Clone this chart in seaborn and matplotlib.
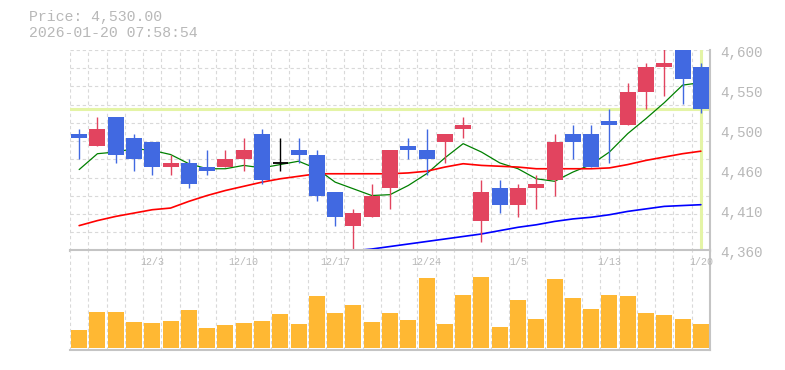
"""
Daily candlestick chart with 5/25/75-day moving averages and volume panel.
"""

import numpy as np
import matplotlib
matplotlib.use("Agg")
import matplotlib.pyplot as plt
import matplotlib.transforms as mtransforms
import seaborn as sns

# trading days shown on the chart (oldest first)
dates = ["11/27", "11/28", "12/1", "12/2", "12/3", "12/4", "12/5", "12/8", "12/9", "12/10",
         "12/11", "12/12", "12/15", "12/16", "12/17", "12/18", "12/19", "12/22", "12/23", "12/24",
         "12/25", "12/26", "12/29", "12/30", "1/5", "1/6", "1/7", "1/8", "1/9", "1/13",
         "1/14", "1/15", "1/16", "1/19", "1/20"]
tick_dates = ["12/3", "12/10", "12/17", "12/24", "1/5", "1/13", "1/20"]

opens = [4500, 4485, 4520, 4495, 4490, 4460, 4465, 4460, 4460, 4470,
         4500, 4465, 4480, 4475, 4430, 4390, 4400, 4435, 4485, 4480,
         4490, 4505, 4395, 4435, 4415, 4435, 4445, 4500, 4500, 4515,
         4510, 4550, 4580, 4610, 4580]
highs = [4505, 4520, 4520, 4500, 4490, 4475, 4470, 4480, 4480, 4495,
         4505, 4495, 4495, 4480, 4430, 4410, 4440, 4480, 4495, 4505,
         4500, 4520, 4445, 4445, 4440, 4450, 4500, 4510, 4510, 4530,
         4560, 4585, 4615, 4620, 4585]
lows = [4470, 4485, 4465, 4455, 4450, 4450, 4435, 4450, 4460, 4455,
        4440, 4455, 4465, 4420, 4390, 4360, 4400, 4410, 4470, 4450,
        4465, 4495, 4370, 4405, 4400, 4410, 4425, 4470, 4460, 4465,
        4510, 4530, 4545, 4535, 4525]
closes = [4495, 4505, 4475, 4470, 4460, 4465, 4440, 4455, 4470, 4480,
          4445, 4465, 4475, 4425, 4400, 4405, 4425, 4480, 4480, 4470,
          4500, 4510, 4430, 4415, 4435, 4440, 4490, 4490, 4460, 4510,
          4550, 4580, 4585, 4565, 4530]

ma5 = [4457, 4476, 4478, 4482, 4480, 4475, 4464, 4458, 4458, 4462,
       4459, 4463, 4467, 4458, 4442, 4434, 4426, 4427, 4438, 4452,
       4471, 4488, 4478, 4465, 4458, 4446, 4443, 4454, 4463, 4478,
       4500, 4518, 4537, 4558, 4561]
ma25 = [4390, 4396, 4401, 4405, 4409, 4411, 4419, 4426, 4432, 4437,
        4442, 4446, 4449, 4452, 4452, 4452, 4452, 4452, 4453, 4455,
        4460, 4464, 4462, 4461, 4460, 4458, 4458, 4458, 4458, 4459,
        4463, 4468, 4472, 4476, 4479]
ma75_start = 15
ma75 = [4360, 4362, 4365, 4368, 4371, 4374, 4377, 4380, 4384, 4388,
        4391, 4395, 4398, 4400, 4403, 4407, 4410, 4413, 4414, 4415]

volume = [5300, 10700, 10700, 7700, 7400, 8000, 11300, 5900, 6800, 7400,
          8000, 10100, 7100, 15500, 10400, 12800, 7700, 10400, 8300, 20900,
          7100, 15800, 21200, 6200, 14300, 8600, 20600, 14900, 11600, 15800,
          15500, 10400, 9800, 8600, 7100]

last_price = 4530.00
timestamp = "2026-01-20 07:58:54"
y_min, y_max = 4360, 4600

UP = "#e2445f"
DOWN = "#4169e1"
VOL = "#ffb833"
GRID = "#d9d9d9"
FRAME = "#c4c4c4"
TEXT = "#b8b8b8"
NOW = "#e4f4a6"

sns.set_theme(style="white")
plt.rcParams["font.family"] = ["Liberation Mono", "DejaVu Sans Mono"]

fig = plt.figure(figsize=(7.85, 3.70), dpi=100)
ax = fig.add_axes([70 / 785, 1 - 250.7 / 370, 640 / 785, 200.7 / 370])
axv = fig.add_axes([70 / 785, 1 - 350.3 / 370, 640 / 785, 100 / 370])

idx = np.arange(len(dates))
n = len(dates)
dash = (0, (3, 2.5))

# --- price panel ---
ax.set_xlim(-0.5, n - 0.5)
ax.set_ylim(y_min, y_max)
ax.set_xticks(np.arange(-0.5, n, 1))
ax.set_yticks(np.linspace(y_min, y_max, 12))
ax.grid(True, color=GRID, linestyle=dash, linewidth=0.8)
ax.set_axisbelow(True)
ax.tick_params(length=0, labelbottom=False, labelleft=False)
for side in ["top", "left"]:
    ax.spines[side].set_visible(False)
for side in ["bottom", "right"]:
    ax.spines[side].set_color(FRAME)
    ax.spines[side].set_linewidth(1.5)

# current price marker lines
ax.axhline(last_price, color=NOW, linewidth=2.2, zorder=1.5)
ax.axvline(idx[-1], ymin=0.01, color=NOW, linewidth=2.2, zorder=1.5)

# moving averages
sns.lineplot(x=idx, y=ma5, color="#008000", linewidth=0.9, estimator=None, ax=ax, zorder=2)
sns.lineplot(x=idx, y=ma25, color="#ff0000", linewidth=1.2, estimator=None, ax=ax, zorder=2)
sns.lineplot(x=idx[ma75_start:], y=ma75, color="#0000ff", linewidth=1.2, estimator=None, ax=ax, zorder=2)

# candles
o = np.array(opens)
c = np.array(closes)
colors = np.where(c > o, UP, np.where(c < o, DOWN, "black"))
ax.vlines(idx, lows, highs, colors=colors, linewidth=1.0, zorder=3)
body_low = np.minimum(o, c)
body_h = np.abs(c - o)
mask = body_h > 0
ax.bar(idx[mask], body_h[mask], bottom=body_low[mask], width=0.875,
       color=colors[mask], linewidth=0, zorder=4)
for i in idx[~mask]:
    ax.hlines(o[i], i - 0.4, i + 0.4, colors="black", linewidth=1.3, zorder=4)

# right-hand price labels (rounded, nudged slightly down)
label_tr = mtransforms.blended_transform_factory(ax.transAxes, ax.transData) + \
    mtransforms.ScaledTranslation(0, -2.5 / 100, fig.dpi_scale_trans)
for v in np.linspace(y_min, y_max, 6):
    ax.text(1.0156, v, f"{int(round(v, -1)):,}", transform=label_tr,
            ha="left", va="center", fontsize=10.3, color=TEXT)

# --- volume panel ---
sns.barplot(x=idx, y=volume, native_scale=True, color=VOL, saturation=1,
            width=0.875, errorbar=None, linewidth=0, ax=axv)
axv.set_xlim(-0.5, n - 0.5)
axv.set_ylim(-800, 29200)
axv.set_xticks(np.arange(-0.5, n, 1))
axv.set_yticks([])
axv.grid(True, axis="x", color=GRID, linestyle=dash, linewidth=0.8)
axv.set_axisbelow(True)
axv.tick_params(length=0, labelbottom=False, labelleft=False)
axv.set_xlabel("")
axv.set_ylabel("")
axv.spines["left"].set_visible(False)
for side in ["bottom", "right", "top"]:
    axv.spines[side].set_color(FRAME)
    axv.spines[side].set_linewidth(1.5)

for d in tick_dates:
    axv.text(dates.index(d), 0.886, d, transform=axv.get_xaxis_transform(),
             ha="center", va="center", fontsize=7.2, color=TEXT)

# header
fig.text(29 / 785, 1 - 17 / 370, f"Price: {last_price:,.2f}", ha="left", va="center",
         fontsize=10.7, color=TEXT)
fig.text(29 / 785, 1 - 33 / 370, timestamp, ha="left", va="center",
         fontsize=10.7, color=TEXT)

fig.savefig("out.png", dpi=100)
plt.close(fig)
